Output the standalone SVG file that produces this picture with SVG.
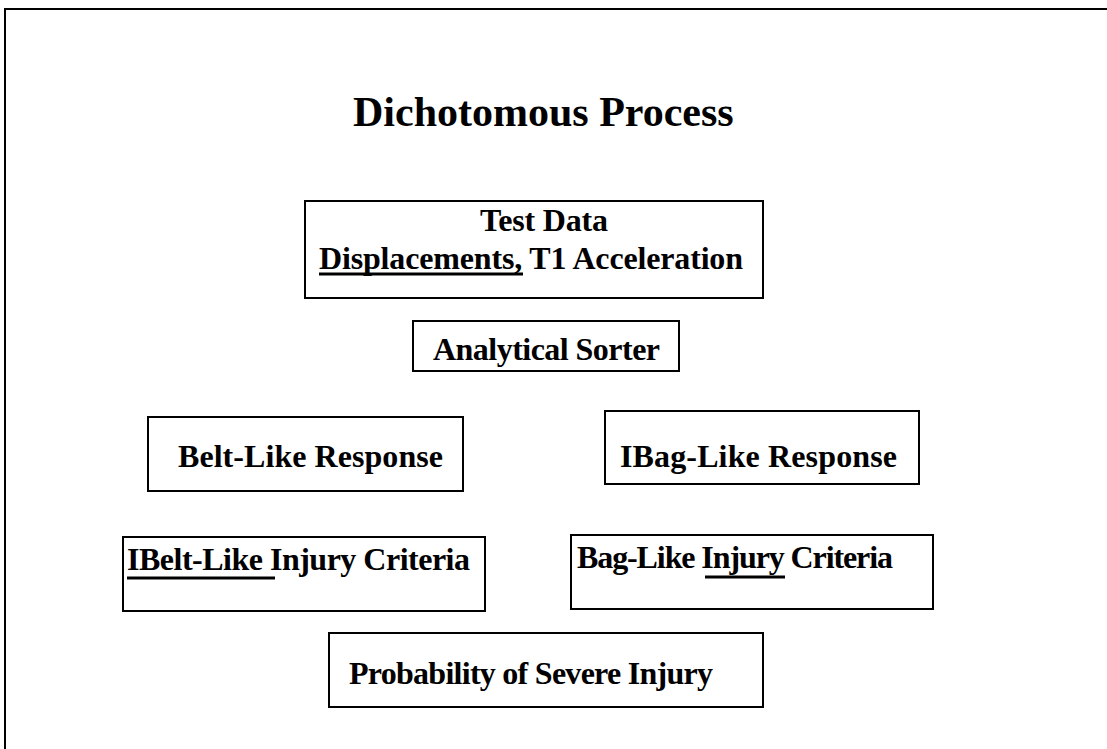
<svg xmlns="http://www.w3.org/2000/svg" width="1107" height="749" viewBox="0 0 1107 749">
<style>
.box{fill:#fff;stroke:#000;stroke-width:2}
.t{font-family:"Liberation Serif","Times New Roman",serif;font-weight:bold;font-size:32px;fill:#000}
.ul{stroke:#000;stroke-width:3}
</style>
<rect x="0" y="0" width="1107" height="749" fill="#fff"/>
<rect x="5" y="9" width="1110" height="760" fill="none" stroke="#000" stroke-width="2"/>
<text class="t" x="353" y="126" style="font-size:42px">Dichotomous Process</text>
<g id="test-data">
<rect class="box" x="305" y="201" width="458" height="97"/>
<text class="t" x="480" y="231" textLength="128">Test Data</text>
<text class="t" x="319" y="269" textLength="424">Displacements, T1 Acceleration</text>
<line class="ul" x1="319" y1="274" x2="523" y2="274"/>
</g>
<g id="sorter">
<rect class="box" x="413" y="321" width="266" height="50"/>
<text class="t" x="433" y="360" textLength="227">Analytical Sorter</text>
</g>
<g id="belt-response">
<rect class="box" x="148" y="417" width="315" height="74"/>
<text class="t" x="178" y="467" textLength="265">Belt-Like Response</text>
</g>
<g id="bag-response">
<rect class="box" x="605" y="411" width="314" height="73"/>
<text class="t" x="620" y="467" textLength="277">IBag-Like Response</text>
</g>
<g id="belt-criteria">
<rect class="box" x="123" y="537" width="362" height="74"/>
<text class="t" x="127" y="570" textLength="343">IBelt-Like Injury Criteria</text>
<line class="ul" x1="127" y1="578" x2="275" y2="578"/>
</g>
<g id="bag-criteria">
<rect class="box" x="571" y="535" width="362" height="74"/>
<text class="t" x="577" y="568" textLength="316">Bag-Like Injury Criteria</text>
<line class="ul" x1="705" y1="577" x2="785" y2="577"/>
</g>
<g id="probability">
<rect class="box" x="329" y="633" width="434" height="74"/>
<text class="t" x="349" y="684" textLength="364">Probability of Severe Injury</text>
</g>
<g id="connectors"></g>
</svg>
